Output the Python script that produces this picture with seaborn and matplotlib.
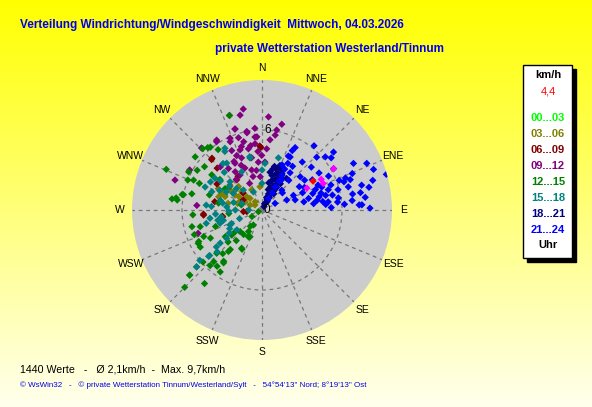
import matplotlib
matplotlib.use('Agg')
import matplotlib.pyplot as plt
import numpy as np
import pandas as pd
import seaborn as sns
from matplotlib import font_manager
from matplotlib.patches import Rectangle
from matplotlib.transforms import offset_copy

sns.set_theme(style='white')
font_names = {f.name for f in font_manager.fontManager.ttflist}
NARROW = 'Liberation Sans Narrow' if 'Liberation Sans Narrow' in font_names else 'Liberation Sans'
plt.rcParams['font.family'] = ['Liberation Sans', 'DejaVu Sans']

# --- data: (direction in degrees, speed in km/h) per 3-hour block ---
GROUPS = ['00...03', '03...06', '06...09', '09...12', '12...15', '15...18', '18...21', '21...24']
GROUP_COLORS = ['#00ff00', '#808000', '#800000', '#800080', '#008000', '#008080', '#000080', '#0000ff']
DIRECTIONS = ['N', 'NNE', 'NE', 'ENE', 'E', 'ESE', 'SE', 'SSE',
              'S', 'SSW', 'SW', 'WSW', 'W', 'WNW', 'NW', 'NNW']

h00_03 = []
h03_06 = [(296, 3.65), (308, 3.05), (299, 2.3), (312, 2.05), (296, 1.4), (306, 0.65), (314, 1.25),
          (290, 2.95), (292.5, 3.3), (315, 2.5), (355, 1.75), (333, 1.7), (281, 2.6), (287, 3.4),
          (292, 3.0), (306.5, 2.5), (311, 1.5), (291, 1.75), (292.6, 0.97), (320, 0.8), (300, 2.0),
          (302, 2.8), (285, 1.9)]
h06_09 = [(316, 5.4), (313, 4.6), (359, 4.7), (358, 4.8), (266, 4.4), (261, 3.0), (265, 4.4),
          (260, 3.0), (312, 1.9), (315, 5.35), (320, 2.95), (306, 3.0), (265, 1.4), (298, 1.6),
          (324.6, 3.1), (280, 3.6), (264, 1.15), (300, 3.9)]
h09_12 = [(349.5, 7.7), (341.6, 6.4), (327, 6.25), (355, 6.15), (349, 6.0), (342, 5.7), (336, 5.9),
          (354.5, 5.5), (354, 5.0), (347.5, 4.7), (342, 5.0), (333, 5.0), (335, 4.5), (338.6, 4.2),
          (348.7, 4.0), (355.6, 3.6), (359.7, 4.1), (3.5, 3.6), (356, 4.4), (330, 4.05), (321, 4.0),
          (337.8, 3.4), (345.5, 3.1), (328, 3.1), (316, 4.5), (315.7, 6.5), (289, 6.9), (274, 4.9),
          (347, 7.3), (341, 7.5), (4, 7.0), (13, 6.6), (10.4, 6.1), (10, 5.7), (6.5, 5.3), (4.4, 4.6),
          (341.5, 6.4), (349, 5.9), (356, 5.5), (326.4, 6.15), (335, 5.65), (299, 6.2), (250, 5.1),
          (330, 4.2), (340, 4.8), (345, 5.3), (350, 4.9), (335, 3.7), (325, 3.5), (345, 2.6),
          (335, 2.2), (320, 3.0), (352, 3.0), (357, 2.5)]
h12_15 = [(341, 7.5), (319, 6.2), (308.5, 6.4), (324, 5.6), (307, 5.4), (301.5, 5.7), (292, 6.0),
          (281, 6.1), (276.7, 6.4), (283, 5.4), (293, 5.1), (286, 4.1), (305, 4.6), (306, 3.9),
          (300, 3.2), (293, 7.8), (277, 6.8), (278, 6.5), (281, 6.0), (316, 6.4), (320.6, 6.1),
          (297.5, 6.2), (293.6, 5.6), (266, 5.2), (256.6, 5.4), (242.4, 5.4), (245.5, 4.8),
          (230.5, 2.95), (225.4, 2.3), (215.7, 1.5), (207, 2.25), (208, 3.25), (218.7, 3.8),
          (226.7, 3.5), (216.8, 4.8), (226.3, 4.7), (223, 5.7), (228.6, 5.9), (228, 7.3), (239, 5.4),
          (250, 5.4), (225, 8.2), (228, 7.3), (218, 7.0), (229, 6.5), (218.6, 5.4), (216, 4.9),
          (223, 5.3), (219, 4.0), (207, 3.3), (204, 2.2), (210, 1.3), (231, 2.6), (234, 3.4),
          (241.4, 4.4), (243.5, 5.3), (254.9, 4.8), (250.4, 3.7), (264, 2.5), (284, 1.6), (279, 3.3),
          (237, 0.9), (245, 0.3), (217, 2.3), (212, 1.9), (220, 3.0), (222, 4.4), (214, 5.6)]
h15_18 = [(329, 5.4), (347, 4.1), (3.7, 3.5), (334.6, 1.5), (297, 3.0), (283, 3.2), (274, 3.8),
          (311.5, 3.2), (304, 4.25), (332, 3.25), (323, 4.4), (270, 2.0), (268, 2.5), (327.6, 5.2),
          (320, 4.55), (347, 4.0), (17.5, 4.1), (0, 3.0), (0, 2.0), (292, 4.6), (298.6, 4.4),
          (261, 3.95), (256.5, 4.3), (252.4, 3.3), (260.6, 3.1), (246, 2.5), (231.7, 2.4), (231, 3.4),
          (231, 4.4), (229, 5.2), (231, 6.0), (229, 6.5), (306, 3.0), (317, 2.05), (270, 1.0),
          (288, 1.6), (257, 3.4), (231.6, 4.0), (227, 4.6), (229, 5.3), (275, 2.65), (245, 2.65),
          (249, 1.8), (300, 2.5), (295, 3.5), (310, 2.5), (285, 2.2), (280, 3.0), (290, 4.0),
          (305, 3.8), (315, 4.0), (275, 4.2), (265, 3.5), (255, 3.0), (240, 2.8), (235, 3.0)]
h18_21 = [(30, 0.3), (28, 0.6), (25, 0.9), (30, 1.1), (22, 1.3), (27, 1.5), (32, 1.7), (20, 1.8),
          (25, 2.0), (29, 2.2), (18, 2.3), (23, 2.5), (27, 2.6), (31, 2.8), (16, 2.7), (21, 2.9),
          (24, 3.0), (15, 3.2), (19, 3.3), (29, 3.1), (35, 2.4), (33, 2.0), (26, 1.2), (20, 1.0),
          (17, 1.6), (14, 2.1), (24, 3.4), (22, 3.6), (12, 2.9), (36, 1.5), (31, 0.8), (22, 0.5),
          (28, 3.5), (38, 3.0), (16, 3.4)]
h21_24 = [(30, 1.0), (31, 1.5), (30, 2.0), (31, 2.5), (30, 3.0), (29, 3.5), (29, 4.0), (28, 4.5),
          (27, 5.0), (28, 5.3), (26, 4.5), (24, 3.7), (37, 3.5), (45, 2.1), (39, 6.2), (40, 4.7),
          (49, 4.9), (50, 6.2), (51, 6.9), (53, 6.5), (63, 7.7), (66, 8.6), (70, 8.9), (74, 9.7),
          (78, 8.2), (80, 7.5), (87, 7.5), (89, 8.1), (71, 7.0), (71, 6.5), (84, 5.7), (83, 5.0),
          (69, 4.8), (76, 3.6), (73, 2.6), (50, 2.0), (63, 1.1), (67, 3.3), (69, 4.3), (73, 5.2),
          (75, 5.9), (69, 6.7), (76, 7.7), (87, 7.3), (49, 3.8), (55, 3.9), (77, 4.4), (77, 4.9),
          (78, 5.4), (65, 2.6), (68, 2.0), (69, 6.2), (75, 6.7), (59, 4.4), (57, 5.1), (63, 5.6),
          (83, 3.9), (58, 3.3), (60, 6.2), (68, 7.3), (75, 8.6), (83, 7.8), (80, 4.2), (82, 4.6),
          (79, 3.2), (85, 4.8), (72, 4.0), (74, 4.6), (81, 5.8), (86, 6.2), (70, 5.5), (66, 4.6),
          (62, 3.6), (35, 4.0), (33, 2.7), (42, 3.0), (46, 5.7), (88, 5.2), (84, 6.8), (80, 6.9)]
recent = [(60, 6.2), (62.6, 5.0), (66.6, 5.0), (64, 3.75)]
current = [(60.5, 4.4)]

TITLE = 'Verteilung Windrichtung/Windgeschwindigkeit  Mittwoch, 04.03.2026'
SUBTITLE = 'private Wetterstation Westerland/Tinnum'
SUMMARY = '1440 Werte   -   Ø 2,1km/h  -  Max. 9,7km/h'
FOOTER = '© WsWin32   -   © private Wetterstation Tinnum/Westerland/Sylt   -   54°54\'13" Nord; 8°19\'13" Ost'
CURRENT_SPEED = '4,4'

blocks = [h00_03, h03_06, h06_09, h09_12, h12_15, h15_18, h18_21, h21_24, recent, current]
labels = GROUPS + ['recent', 'current']
palette = dict(zip(labels, GROUP_COLORS + ['#ff00ff', '#ff0000']))

rows = []
for label, block in zip(labels, blocks):
    for d, v in block:
        rows.append({'theta': np.deg2rad(d), 'speed': v, 'group': label})
df = pd.DataFrame(rows)

W, H = 592, 407
fig = plt.figure(figsize=(W / 100, H / 100), dpi=100)

# yellow gradient background
bg = fig.add_axes([0, 0, 1, 1], zorder=-1)
grad = np.ones((256, 1, 3))
grad[:, 0, 2] = np.linspace(0, 0.93, 256)
bg.imshow(grad, aspect='auto', extent=[0, 1, 0, 1])
bg.axis('off')

# polar plot, centre (262, 210) px, radius 130 px
cx, cy, rad = 262, 210, 130
ax = fig.add_axes([(cx - rad) / W, (H - cy - rad) / H, 2 * rad / W, 2 * rad / H], projection='polar')
ax.set_facecolor('#cccccc')
ax.set_theta_zero_location('N')
ax.set_theta_direction(-1)

sns.scatterplot(data=df, x='theta', y='speed', hue='group', palette=palette, marker='D',
                s=14, linewidth=0, legend=False, ax=ax)

ax.set_ylim(0, 9.75)
ax.set_xticks(np.deg2rad(np.arange(0, 360, 22.5)))
ax.set_xticklabels([])
ax.set_yticks([6])
ax.set_yticklabels([])
ax.set_xlabel('')
ax.set_ylabel('')
ax.grid(True, color='#777777', linestyle=(0, (3, 3)), linewidth=0.9)
ax.spines['polar'].set_visible(False)

for ang, lab in zip(np.arange(0, 360, 22.5), DIRECTIONS):
    ax.text(np.deg2rad(ang), 10.65, lab, ha='center', va='center', fontsize=7.5, color='black')

shift = offset_copy(ax.transData, fig=fig, x=2, y=0, units='dots')
ax.text(0, 0, '0', transform=shift, ha='left', va='center', fontsize=8.5, color='black')
ax.text(0, 6, '6', transform=shift, ha='left', va='center', fontsize=8.5, color='black')

# titles
fig.text(20 / W, 1 - 25 / H, TITLE, color='#0000ee', fontsize=8.5, fontweight='bold',
         family=[NARROW, 'DejaVu Sans'], ha='left', va='center')
fig.text(215 / W, 1 - 49 / H, SUBTITLE, color='#0000ee', fontsize=8.5, fontweight='bold',
         family=[NARROW, 'DejaVu Sans'], ha='left', va='center')

# legend box with shadow
bx0, by0, bx1, by1 = 523, 65, 572, 258
fig.add_artist(Rectangle(((bx0 + 4) / W, 1 - (by1 + 4) / H), (bx1 - bx0) / W, (by1 - by0) / H,
                         transform=fig.transFigure, facecolor='black', edgecolor='black'))
fig.add_artist(Rectangle((bx0 / W, 1 - by1 / H), (bx1 - bx0) / W, (by1 - by0) / H,
                         transform=fig.transFigure, facecolor='white', edgecolor='black', linewidth=1))
lx = 548 / W
fig.text(lx, 1 - 75 / H, 'km/h', ha='center', va='center', fontsize=8, fontweight='bold', color='black')
fig.text(lx, 1 - 91 / H, CURRENT_SPEED, ha='center', va='center', fontsize=8, color='#ff0000')
for i, (g, c) in enumerate(zip(GROUPS, GROUP_COLORS)):
    fig.text(lx, 1 - (118 + 16 * i) / H, g, ha='center', va='center', fontsize=8,
             fontweight='bold', color=c)
fig.text(lx, 1 - 245 / H, 'Uhr', ha='center', va='center', fontsize=8, fontweight='bold', color='black')

# footer
fig.text(20 / W, 1 - 369 / H, SUMMARY, ha='left', va='center', fontsize=7.7, color='black')
fig.text(20 / W, 1 - 385 / H, FOOTER, ha='left', va='center', fontsize=5.8, color='#0000ee')

fig.savefig('out.png', dpi=100)
